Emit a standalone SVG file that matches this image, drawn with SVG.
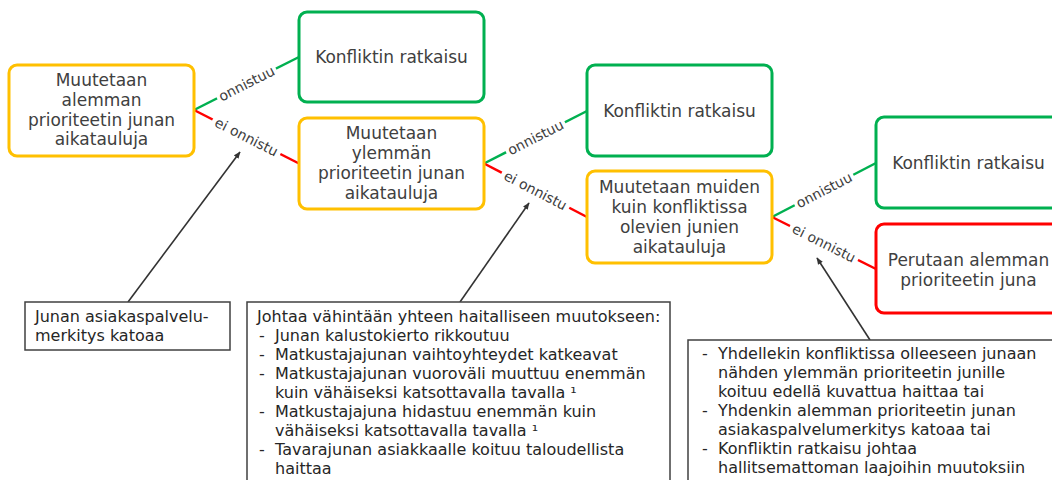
<svg xmlns="http://www.w3.org/2000/svg" width="1052" height="480" viewBox="0 0 1052 480">
<defs>
<style>
.nt{font-family:"DejaVu Sans",Verdana,sans-serif;font-size:17px;fill:#404040;text-anchor:middle}
.lb{font-family:"DejaVu Sans",Verdana,sans-serif;font-size:14px;fill:#404040;text-anchor:middle}
.at{font-family:"DejaVu Sans",Verdana,sans-serif;font-size:16px;fill:#262626}
.or{fill:#fff;stroke:#FFC000;stroke-width:3}
.gr{fill:#fff;stroke:#00B050;stroke-width:3}
.rd{fill:#fff;stroke:#FF0000;stroke-width:3}
.gl{stroke:#00B050;stroke-width:2.5}
.rl{stroke:#FF0000;stroke-width:2.5}
.ab{fill:#fff;stroke:#404040;stroke-width:1.5}
.ar{stroke:#333;stroke-width:1.6;fill:none;marker-end:url(#ah)}
</style>
<marker id="ah" viewBox="0 0 10 10" refX="9" refY="5" markerWidth="7" markerHeight="7" orient="auto" markerUnits="userSpaceOnUse">
<path d="M0,1 L10,5 L0,9 z" fill="#333"/>
</marker>
</defs>
<rect width="1052" height="480" fill="#fff"/>

<g id="connectors">
<line class="gl" x1="194" y1="110" x2="299" y2="57"/>
<g transform="translate(246.5,83.5) rotate(-26.8)"><rect x="-33" y="-9" width="66" height="18" fill="#fff"/><text class="lb" y="5">onnistuu</text></g>
<line class="rl" x1="194" y1="110" x2="299" y2="163.5"/>
<g transform="translate(246.5,136.8) rotate(27)"><rect x="-38" y="-9" width="76" height="18" fill="#fff"/><text class="lb" y="5">ei onnistu</text></g>
<line class="gl" x1="484" y1="163.5" x2="587" y2="111"/>
<g transform="translate(535.5,137.3) rotate(-27)"><rect x="-33" y="-9" width="66" height="18" fill="#fff"/><text class="lb" y="5">onnistuu</text></g>
<line class="rl" x1="484" y1="163.5" x2="587" y2="217"/>
<g transform="translate(535.5,190.3) rotate(27.4)"><rect x="-38" y="-9" width="76" height="18" fill="#fff"/><text class="lb" y="5">ei onnistu</text></g>
<line class="gl" x1="772" y1="217" x2="876" y2="163"/>
<g transform="translate(824,190) rotate(-27.4)"><rect x="-33" y="-9" width="66" height="18" fill="#fff"/><text class="lb" y="5">onnistuu</text></g>
<line class="rl" x1="772" y1="217" x2="876" y2="269"/>
<g transform="translate(824,243) rotate(26.6)"><rect x="-38" y="-9" width="76" height="18" fill="#fff"/><text class="lb" y="5">ei onnistu</text></g>
<line class="ar" x1="128" y1="302" x2="240" y2="152"/>
<line class="ar" x1="460" y1="302" x2="529" y2="203"/>
<line class="ar" x1="870" y1="340" x2="817" y2="258"/>
</g>

<g id="n1"><rect class="or" x="9" y="65" width="185" height="91" rx="8"/>
<text class="nt" x="101.5" y="86">Muutetaan</text><text class="nt" x="101.5" y="106">alemman</text><text class="nt" x="101.5" y="126">prioriteetin junan</text><text class="nt" x="101.5" y="145">aikatauluja</text></g>

<g id="g1"><rect class="gr" x="299" y="12" width="185" height="90" rx="8"/>
<text class="nt" x="391.5" y="63">Konfliktin ratkaisu</text></g>

<g id="n2"><rect class="or" x="299" y="118" width="185" height="91" rx="8"/>
<text class="nt" x="391.5" y="139">Muutetaan</text><text class="nt" x="391.5" y="159">ylemmän</text><text class="nt" x="391.5" y="179">prioriteetin junan</text><text class="nt" x="391.5" y="199">aikatauluja</text></g>

<g id="g2"><rect class="gr" x="587" y="65" width="185" height="91" rx="8"/>
<text class="nt" x="679.5" y="117">Konfliktin ratkaisu</text></g>

<g id="n3"><rect class="or" x="587" y="171" width="185" height="92" rx="8"/>
<text class="nt" x="679.5" y="193">Muutetaan muiden</text><text class="nt" x="679.5" y="213">kuin konfliktissa</text><text class="nt" x="679.5" y="233">olevien junien</text><text class="nt" x="679.5" y="253">aikatauluja</text></g>

<g id="g3"><rect class="gr" x="876" y="117" width="185" height="91" rx="8"/>
<text class="nt" x="968.5" y="169">Konfliktin ratkaisu</text></g>

<g id="r1"><rect class="rd" x="876" y="224" width="185" height="89" rx="8"/>
<text class="nt" x="968.5" y="266">Perutaan alemman</text><text class="nt" x="968.5" y="286">prioriteetin juna</text></g>

<g id="a1"><rect class="ab" x="25" y="302" width="205" height="48"/>
<text class="at" x="35" y="322">Junan asiakaspalvelu-</text><text class="at" x="35" y="341">merkitys katoaa</text></g>

<g id="a2"><rect class="ab" x="247" y="302" width="423" height="190"/>
<text class="at" x="257" y="322">Johtaa vähintään yhteen haitalliseen muutokseen:</text>
<text class="at" x="259" y="341">-</text><text class="at" x="275" y="341">Junan kalustokierto rikkoutuu</text>
<text class="at" x="259" y="360">-</text><text class="at" x="275" y="360">Matkustajajunan vaihtoyhteydet katkeavat</text>
<text class="at" x="259" y="379">-</text><text class="at" x="275" y="379">Matkustajajunan vuoroväli muuttuu enemmän</text>
<text class="at" x="275" y="398">kuin vähäiseksi katsottavalla tavalla ¹</text>
<text class="at" x="259" y="417">-</text><text class="at" x="275" y="417">Matkustajajuna hidastuu enemmän kuin</text>
<text class="at" x="275" y="436">vähäiseksi katsottavalla tavalla ¹</text>
<text class="at" x="259" y="455">-</text><text class="at" x="275" y="455">Tavarajunan asiakkaalle koituu taloudellista</text>
<text class="at" x="275" y="474">haittaa</text></g>

<g id="a3"><rect class="ab" x="688" y="340" width="380" height="160"/>
<text class="at" x="702" y="359">-</text><text class="at" x="718" y="359">Yhdellekin konfliktissa olleeseen junaan</text>
<text class="at" x="718" y="378">nähden ylemmän prioriteetin junille</text>
<text class="at" x="718" y="397">koituu edellä kuvattua haittaa tai</text>
<text class="at" x="702" y="416">-</text><text class="at" x="718" y="416">Yhdenkin alemman prioriteetin junan</text>
<text class="at" x="718" y="435">asiakaspalvelumerkitys katoaa tai</text>
<text class="at" x="702" y="454">-</text><text class="at" x="718" y="454">Konfliktin ratkaisu johtaa</text>
<text class="at" x="718" y="473">hallitsemattoman laajoihin muutoksiin</text></g>
</svg>
